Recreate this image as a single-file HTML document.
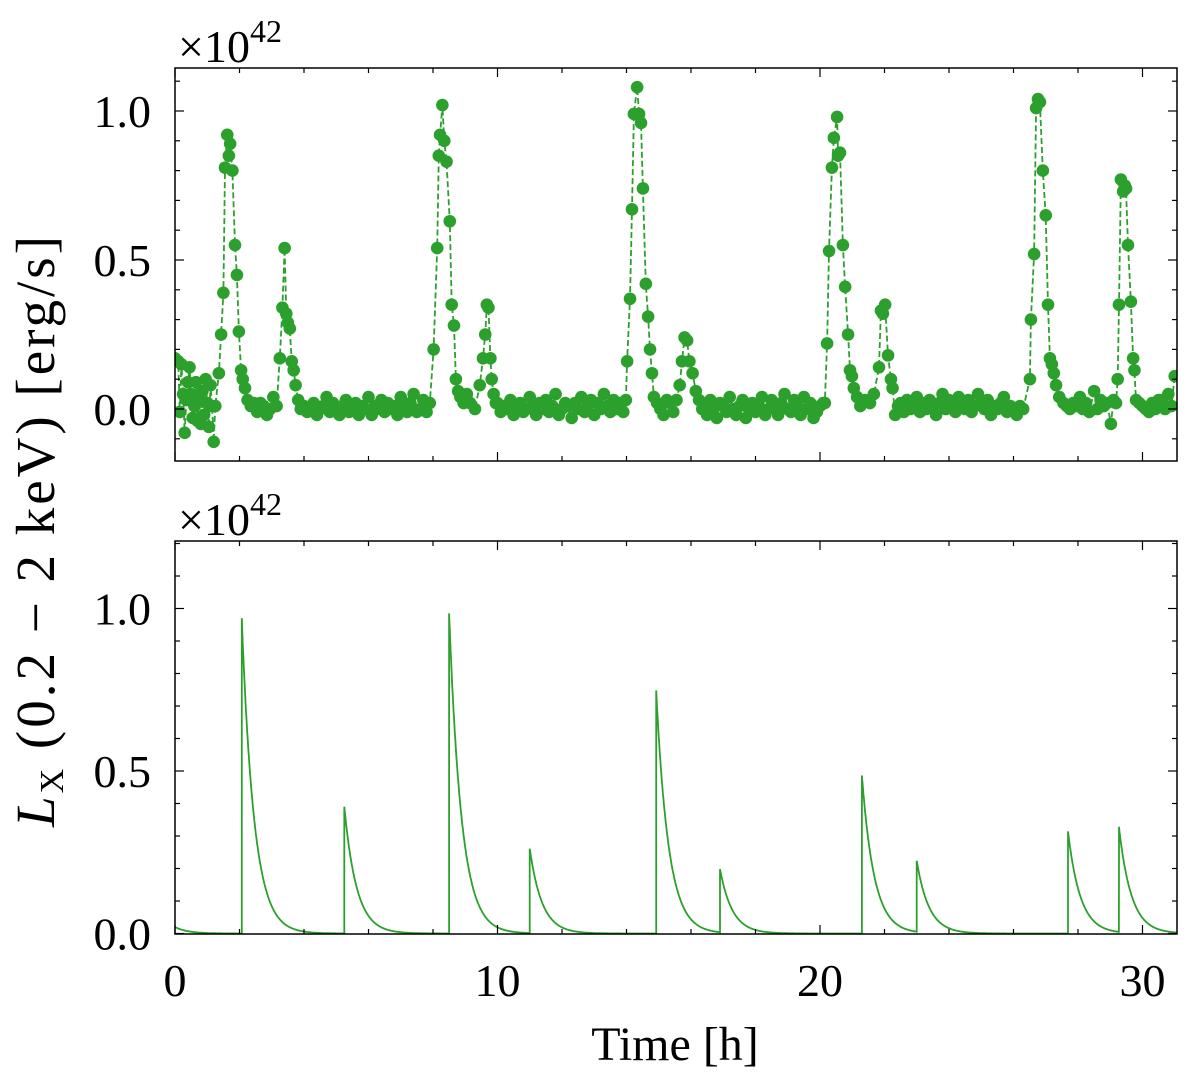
<!DOCTYPE html>
<html><head><meta charset="utf-8"><style>
html,body{margin:0;padding:0;background:#fff;}
svg{display:block;font-family:"Liberation Serif","DejaVu Serif",serif;}
</style></head><body>
<svg id="fig" width="1200" height="1087" viewBox="0 0 1200 1087" xmlns="http://www.w3.org/2000/svg">
<g id="top"></g>
<g id="bot"></g>
<text x="178" y="62" font-size="46">×10<tspan dy="-20" font-size="32">42</tspan></text>
<text x="178" y="535" font-size="46">×10<tspan dy="-20" font-size="32">42</tspan></text>
<text transform="translate(54,530) rotate(-90)" text-anchor="middle" font-size="55" letter-spacing="3"><tspan font-style="italic">L</tspan><tspan font-size="34" dy="9">X</tspan><tspan dy="-9"> (0.2 − 2 keV) [erg/s]</tspan></text>
<text x="675" y="1060" text-anchor="middle" font-size="48">Time [h]</text>
</svg>
<script>
// Observed (top panel) flare points: times [h] and luminosity [1e42 erg/s]
const obsTimes=[0.0,0.1,0.15,0.2,0.25,0.3,0.35,0.4,0.45,0.5,0.55,0.6,0.65,0.7,0.75,0.8,0.85,0.9,0.95,1.0,1.05,1.1,1.15,1.2,1.25,
1.36,1.43,1.5,1.55,1.62,1.67,1.71,1.78,1.86,1.92,1.98,2.05,2.1,2.17,2.25,2.35,2.45,2.55,2.65,2.75,2.85,2.95,3.05,3.15,3.25,3.33,3.4,3.45,3.5,3.56,3.62,3.68,3.74,3.82,3.9,
7.9,8.02,8.13,8.18,8.22,8.29,8.35,8.42,8.52,8.58,8.65,8.71,8.78,8.85,8.95,9.05,9.15,9.3,9.45,9.55,9.62,9.67,9.72,9.78,9.82,9.88,9.95,
13.98,14.02,14.11,14.17,14.23,14.33,14.39,14.45,14.51,14.6,14.67,14.73,14.79,14.85,14.95,15.05,15.15,15.25,15.35,15.45,15.55,15.65,15.72,15.8,15.88,15.95,16.05,16.15,16.25,16.35,
20.15,20.22,20.28,20.37,20.43,20.53,20.56,20.62,20.71,20.78,20.87,20.93,20.99,21.05,21.15,21.25,21.4,21.55,21.67,21.83,21.89,21.95,22.02,22.11,22.2,22.25,22.33,22.42,
26.51,26.54,26.64,26.7,26.76,26.82,26.91,27.0,27.07,27.13,27.19,27.25,27.32,27.42,27.55,27.65,27.75,27.85,27.95,28.06,28.15,28.25,28.35,28.5,28.6,28.7,28.8,28.9,29.02,29.1,29.18,29.23,29.27,29.33,29.4,29.45,29.49,29.55,29.64,29.71,29.75,29.8,29.9,30.0,30.1,30.2,30.3,30.4,30.5,30.6,30.7,30.8,30.9,31.0];
const obsLum=[0.17,0.16,-0.01,0.15,0.05,-0.08,0.03,0.09,0.14,0.05,-0.03,0.01,0.09,-0.04,0.03,-0.05,0.06,-0.02,0.10,0.02,-0.06,0.08,0.01,-0.11,0.01,
0.12,0.25,0.39,0.81,0.92,0.85,0.89,0.80,0.55,0.45,0.26,0.13,0.10,0.07,0.03,0.01,0.02,-0.01,0.02,0.01,-0.02,0.00,0.04,0.01,0.17,0.34,0.54,0.32,0.29,0.27,0.16,0.13,0.08,0.03,0.00,
0.02,0.20,0.54,0.85,0.92,1.02,0.90,0.83,0.63,0.35,0.28,0.10,0.06,0.04,0.02,0.05,0.02,0.00,0.08,0.17,0.25,0.35,0.34,0.17,0.10,0.05,0.02,
0.03,0.16,0.37,0.67,0.99,1.08,0.99,0.96,0.74,0.42,0.31,0.20,0.12,0.04,0.02,0.00,-0.02,0.03,0.02,-0.01,0.03,0.08,0.16,0.24,0.23,0.16,0.12,0.06,0.03,0.00,
0.02,0.22,0.53,0.81,0.91,0.98,0.85,0.86,0.55,0.41,0.25,0.13,0.11,0.07,0.04,0.01,0.03,0.02,0.05,0.14,0.33,0.32,0.35,0.18,0.10,0.07,-0.02,0.01,
0.10,0.30,0.52,1.01,1.04,1.03,0.80,0.65,0.35,0.17,0.15,0.12,0.08,0.04,0.02,0.01,0.00,0.02,0.01,0.04,0.00,0.02,-0.01,0.06,0.00,0.03,0.01,0.02,-0.05,0.03,0.02,0.10,0.35,0.77,0.73,0.75,0.74,0.55,0.36,0.17,0.13,0.03,0.02,0.01,0.00,-0.01,0.02,0.00,0.03,0.03,0.00,0.05,0.01,0.11];
// Quiescent stretches sampled every 0.1 h
const baseStart=[4.0,10.0,16.4,22.5];
const baseVals=[
[0.01,-0.01,0.00,0.02,-0.02,0.00,0.01,0.04,-0.01,0.02,0.00,-0.02,0.01,0.03,-0.01,0.00,0.02,-0.02,0.01,0.00,0.04,-0.02,0.01,0.00,0.03,-0.01,0.02,0.00,0.01,-0.02,0.04,0.01,-0.01,0.02,0.05,-0.01,0.00,0.03,-0.01],
[0.02,-0.01,0.01,0.00,0.03,-0.02,0.01,0.02,-0.01,0.00,0.04,0.01,-0.02,0.02,0.00,0.03,-0.01,0.01,0.05,-0.02,0.00,0.02,0.01,-0.03,0.02,0.00,0.04,-0.01,0.01,0.03,-0.02,0.02,0.00,0.05,0.01,-0.01,0.03,0.00,0.02,-0.01],
[0.01,-0.02,0.03,0.00,-0.03,0.02,0.01,-0.01,0.04,0.00,-0.02,0.01,0.03,-0.03,0.00,0.02,-0.01,0.01,0.04,-0.02,0.00,0.03,0.01,-0.02,0.02,0.05,0.00,-0.01,0.03,0.01,-0.02,0.04,0.00,0.02,-0.03,-0.01,0.01,0.02],
[0.02,-0.01,0.03,0.00,0.01,0.04,-0.01,0.02,0.00,0.03,0.01,-0.02,0.02,0.05,0.00,0.03,0.01,-0.01,0.04,0.02,0.00,0.03,-0.01,0.01,0.05,0.02,0.00,0.03,-0.02,0.01,0.00,0.02,0.04,-0.01,0.01,0.00,-0.02,0.01,0.00]];
// Model (bottom panel) flares: onset times [h] and peak amplitudes
const modelTimes=[-1.0,2.07,5.25,8.5,11.0,14.92,16.9,21.3,23.0,27.69,29.27];
const modelAmps=[0.28,0.97,0.39,0.985,0.26,0.748,0.194,0.486,0.218,0.314,0.323];
const decayTime=0.38;
const xTicks=[0,10,20,30];
const yTicks=[0.0,0.5,1.0];

const NS="http://www.w3.org/2000/svg";
const L=175,R=1177,XMAX=31.07;
const xs=t=>L+(t-0)/(XMAX)*(R-L);
const topY=v=>409-v*298;
const botY=v=>933.5-v*325;
const C="#2ca02c";
function mk(tag,attrs,parent){const e=document.createElementNS(NS,tag);for(const k in attrs)e.setAttribute(k,attrs[k]);parent.appendChild(e);return e;}

function axes(g,T,B,yf,ymin,ymax,showXLabels,prefix){
  const fr=mk('rect',{x:L,y:T,width:R-L,height:B-T,fill:'none',stroke:'#000','stroke-width':1.5},g);
  
  
  for(let t=0;t<=XMAX;t+=2){
    const major=t%10===0, len=major?9:5, x=xs(t);
    const a=mk('line',{x1:x,x2:x,y1:B,y2:B-len,stroke:'#000','stroke-width':1.2},g);
    
    
    const b=mk('line',{x1:x,x2:x,y1:T,y2:T+len,stroke:'#000','stroke-width':1.2},g);
    
    
  }
  if(showXLabels){xTicks.forEach(t=>{const tx=mk('text',{x:xs(t),y:996,'text-anchor':'middle','font-size':46},g);tx.textContent=String(t);
    
    });}
  for(let k=Math.ceil(ymin*10);k<=Math.floor(ymax*10);k++){
    const v=k/10, major=k%5===0, len=major?9:5, y=yf(v);
    const a=mk('line',{x1:L,x2:L+len,y1:y,y2:y,stroke:'#000','stroke-width':1.2},g);
    
    
    const b=mk('line',{x1:R,x2:R-len,y1:y,y2:y,stroke:'#000','stroke-width':1.2},g);
    
    
  }
  yTicks.forEach(v=>{const tx=mk('text',{x:151,y:yf(v)+16,'text-anchor':'end','font-size':46},g);tx.textContent=v.toFixed(1);
    
    });
}

// Top panel
const gt=document.getElementById('top');
const pts=[];
obsTimes.forEach((t,i)=>pts.push([t,obsLum[i]]));
baseStart.forEach((s,j)=>baseVals[j].forEach((v,i)=>pts.push([s+0.1*i,v])));
pts.sort((a,b)=>a[0]-b[0]);
const cp=mk('clipPath',{id:'ctop'},gt);mk('rect',{x:L,y:68,width:R-L,height:393},cp);
const cg=mk('g',{'clip-path':'url(#ctop)'},gt);
const ln=mk('polyline',{points:pts.map(p=>xs(p[0]).toFixed(1)+','+topY(p[1]).toFixed(1)).join(' '),fill:'none',stroke:C,'stroke-width':1.8,'stroke-dasharray':'6,3'},cg);


pts.forEach(p=>{const c=mk('circle',{cx:xs(p[0]),cy:topY(p[1]),r:6.3,fill:C},cg);
  
  });
axes(gt,68,461,topY,-0.17,1.14,false,'top');

// Bottom panel
const gb=document.getElementById('bot');
const model=t=>{let s=0;modelTimes.forEach((t0,i)=>{if(t>=t0)s+=modelAmps[i]*Math.exp(-(t-t0)/decayTime);});return s;};
const mp=[];
const dt=0.01;
for(let t=0;t<=XMAX;t+=dt){mp.push([t,model(t)]);}
modelTimes.forEach(t0=>{if(t0>0){mp.push([t0-0.0001,model(t0-0.0001)]);mp.push([t0,model(t0)]);}});
mp.sort((a,b)=>a[0]-b[0]);
const cp2=mk('clipPath',{id:'cbot'},gb);mk('rect',{x:L,y:541,width:R-L,height:393},cp2);
const ml=mk('polyline',{points:mp.map(p=>xs(p[0]).toFixed(1)+','+botY(p[1]).toFixed(1)).join(' '),fill:'none',stroke:C,'stroke-width':1.8,'clip-path':'url(#cbot)'},gb);


axes(gb,541,934,botY,0,1.2,true,'bottom');
</script>
</body></html>
